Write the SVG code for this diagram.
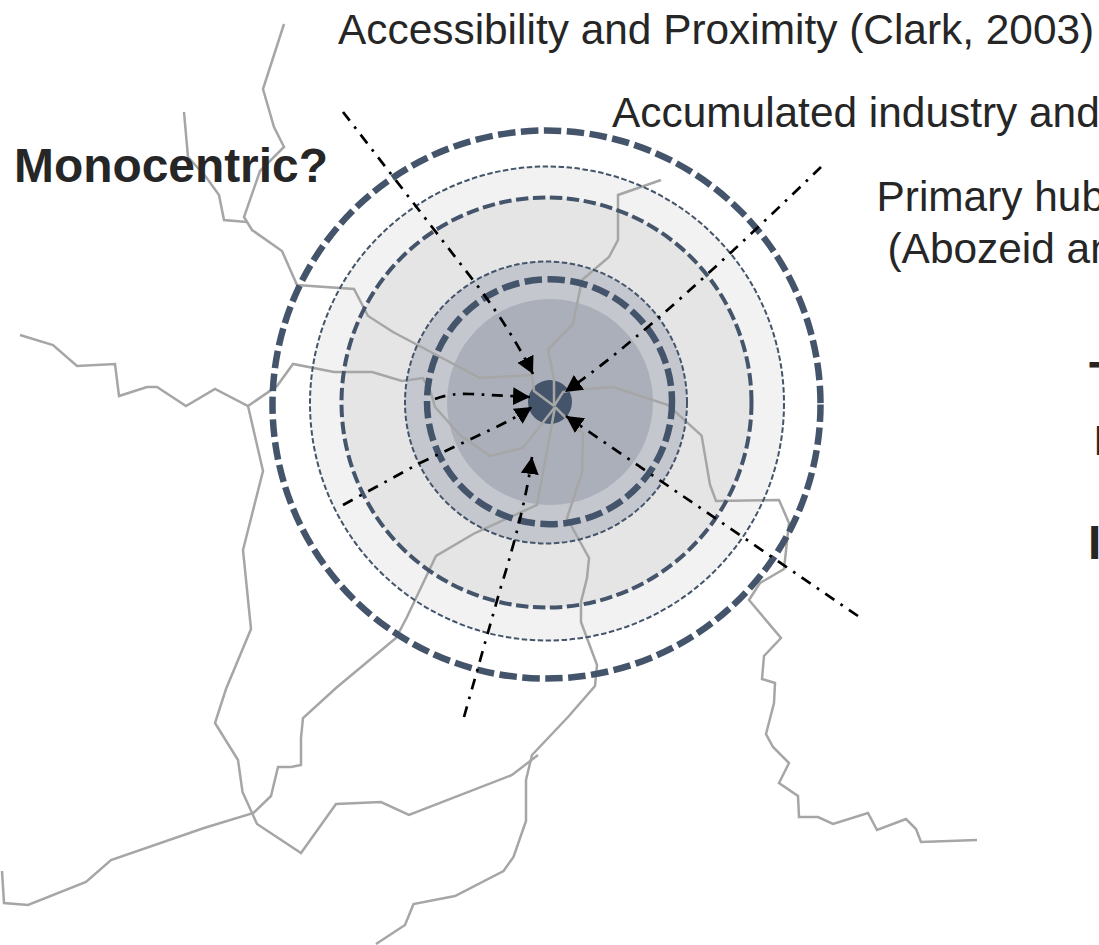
<svg xmlns="http://www.w3.org/2000/svg" width="1099" height="945" viewBox="0 0 1099 945">
<style>
text{font-family:"Liberation Sans",Arial,sans-serif;fill:#262626}
.r{font-size:42.4px}
.b{font-size:47.9px;font-weight:700}
.road{fill:none;stroke:#a6a6a6;stroke-width:2.5;stroke-linejoin:miter}
.ring{fill:none;stroke:#44546a}
.thick{stroke-width:6.5;stroke-dasharray:17.500 5.500}
.mid{stroke-width:4;stroke-dasharray:12.500 4.500}
.thin{stroke-width:2;stroke-dasharray:5.500 2.500}
.arrow{fill:none;stroke:#000;stroke-width:2.700;stroke-dasharray:11 7.500 2.700 7.500}
</style>
<defs>
<marker id="head" markerUnits="userSpaceOnUse" markerWidth="18" markerHeight="19" refX="17" refY="9" orient="auto"><path d="M0 0L17 9L0 18Z" fill="#000"/></marker>
</defs>
<rect width="1099" height="945" fill="#fff"/>
<g id="zones">
<circle cx="547" cy="403.500" r="237" fill="#f2f2f2"/>
<circle cx="546.500" cy="402.500" r="205" fill="#e5e5e5"/>
<circle cx="546" cy="402.500" r="141" fill="#c5c7cf"/>
<circle cx="550" cy="402" r="103" fill="#aaafb9"/>
<circle cx="550" cy="402" r="22" fill="#44546a"/>
</g>
<g id="roads">
<path class="road" d="M284 24L263 89L274 127L284 147L260 171L244 217L252 230L282 251L297 285L354 289L368 316L393 332L480 378L532 375L534 391L554 406"/>
<path class="road" d="M184 112L188 157L206 177L219 195L224 220L247 222"/>
<path class="road" d="M20 335L53 345L77 366L115 364L119 396L147 387L157 387L186 406L215 389L248 406L277 386L293 364L334 372L372 372L402 381L423 378L431 393L435 407L460 435L490 456L523 448L555 407"/>
<path class="road" d="M248 406L263 471L243 550L251 629L226 689L215 723L238 760L242.500 792L257 824L301 853L336 804L381 802L409 815L512 775L538 755"/>
<path class="road" d="M2 871L4 903L28 905L86 882L111 860L204 828L253.500 813L271 796L278 767L291 767L301 765L301 738L303 718L336 688L396 638L407 617L436 556L475 533L537 505L555 407"/>
<path class="road" d="M376 944L405 925L413.500 904L455 896L503.500 871L513.500 857L526 821L526 780L532 755L568 717L595 686L597 665L581 622L581 602L587 578L589 558L567 518L582 473L583 433L575 427L555 407"/>
<path class="road" d="M661 180L618 195L618 240L609 257L582 280L573 324L548 349.500L554 379L554 406"/>
<path class="road" d="M554 406L563 392L572 390L613 387L668 405L701.600 435.600L710 484.600L716 501L779 500L789 523L784 569L760 583L749 600L781 638L764 656L762 679L775 683L774 703L766 734L773 747L789 763L779 783L798 796L799 817L818 817L833 824L868 813L877 830L906 819L916 829L921 842L977 840"/>
</g>
<g id="rings">
<circle class="ring thick" cx="546.500" cy="404.500" r="274"/>
<circle class="ring thin" cx="547" cy="403.500" r="237"/>
<circle class="ring mid" cx="546.500" cy="402.500" r="205"/>
<circle class="ring thin" cx="546" cy="402.500" r="141"/>
<circle class="ring thick" cx="549.500" cy="401.700" r="122.500"/>
</g>
<g id="connectors">
<path class="arrow" marker-end="url(#head)" d="M343 112L473 280Q510 328 533 374"/>
<path class="arrow" marker-end="url(#head)" d="M821 167C740 245 640 340 565 392"/>
<path class="arrow" marker-end="url(#head)" d="M435 399Q450 393 470 394L530 397"/>
<path class="arrow" marker-end="url(#head)" d="M343 505L420 463L490 430Q512 420 532 407"/>
<path class="arrow" marker-end="url(#head)" d="M464 717L500 590Q525 510 532 457"/>
<path class="arrow" marker-end="url(#head)" d="M858 616L566 416"/>
</g>
<g id="labels">
<text class="r" x="338" y="44">Accessibility and Proximity (Clark, 2003)</text>
<text class="r" x="612" y="127">Accumulated industry and</text>
<text class="r" x="876.500" y="211">Primary hub</text>
<text class="r" x="887.500" y="263">(Abozeid an</text>
<text class="b" x="14" y="181.500">Monocentric?</text>
<text class="b" x="1089" y="395">T</text>
<text class="r" x="1093" y="455">I</text>
<text class="b" x="1088" y="559">I</text>
</g>
</svg>
